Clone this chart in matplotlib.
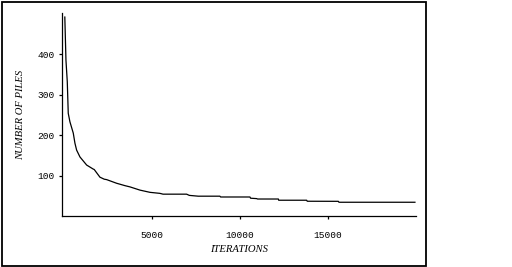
import matplotlib
matplotlib.use("Agg")
import matplotlib.pyplot as plt
from matplotlib.patches import Rectangle

# values
iterations = [50, 70, 115, 190, 245, 340, 530, 625, 720, 910, 1290, 1665,
              1720, 2045, 2290, 2425, 2990, 3470, 3750, 4320, 4890, 5450,
              5630, 6270, 6970, 7120, 7630, 8860, 8900, 10570, 10600, 10950,
              11000, 12180, 12200, 13790, 13820, 15590, 15620, 19940]
piles = [492, 459, 385, 332, 254, 233, 205, 180, 163, 146, 126, 116,
         115, 96, 91, 90, 81, 75, 72, 64, 58.5, 56,
         54, 54, 54, 51, 49, 49, 47, 47, 44, 43,
         42, 42, 39, 39, 36.5, 36.3, 34, 34]

xticks = [5000, 10000, 15000]
yticks = [100, 200, 300, 400]

fig = plt.figure(figsize=(5.12, 2.67), dpi=100)
fig.patch.set_facecolor("white")

# outer frame around the whole chart
fig.patches.append(Rectangle((2 / 512, 1 / 267), 424 / 512, 264 / 267,
                             transform=fig.transFigure, fill=False,
                             edgecolor="black", linewidth=1.3))

ax = fig.add_axes([62 / 512, 1 - 216 / 267, 354 / 512, 203 / 267])
ax.plot(iterations, piles, color="black", linewidth=0.9)

ax.set_xlim(-110, 20000)
ax.set_ylim(0, 502)
ax.set_xticks(xticks)
ax.set_yticks(yticks)

tick_font = dict(family="Liberation Mono", size=6.8)
ax.set_xticklabels([str(t) for t in xticks], fontdict=tick_font)
ax.set_yticklabels([str(t) for t in yticks], fontdict=tick_font)
ax.tick_params(axis="both", length=2.5, width=0.9, direction="out")
ax.tick_params(axis="x", pad=8)
ax.tick_params(axis="y", pad=3)

for side in ["top", "right"]:
    ax.spines[side].set_visible(False)
for side in ["left", "bottom"]:
    ax.spines[side].set_linewidth(0.9)

label_font = dict(family="Liberation Serif", style="italic", size=7.7)
ax.set_xlabel("ITERATIONS", fontdict=label_font, labelpad=4)
ax.set_ylabel("NUMBER OF PILES", fontdict=label_font, labelpad=9)

fig.savefig("out.png", dpi=100, facecolor="white")
